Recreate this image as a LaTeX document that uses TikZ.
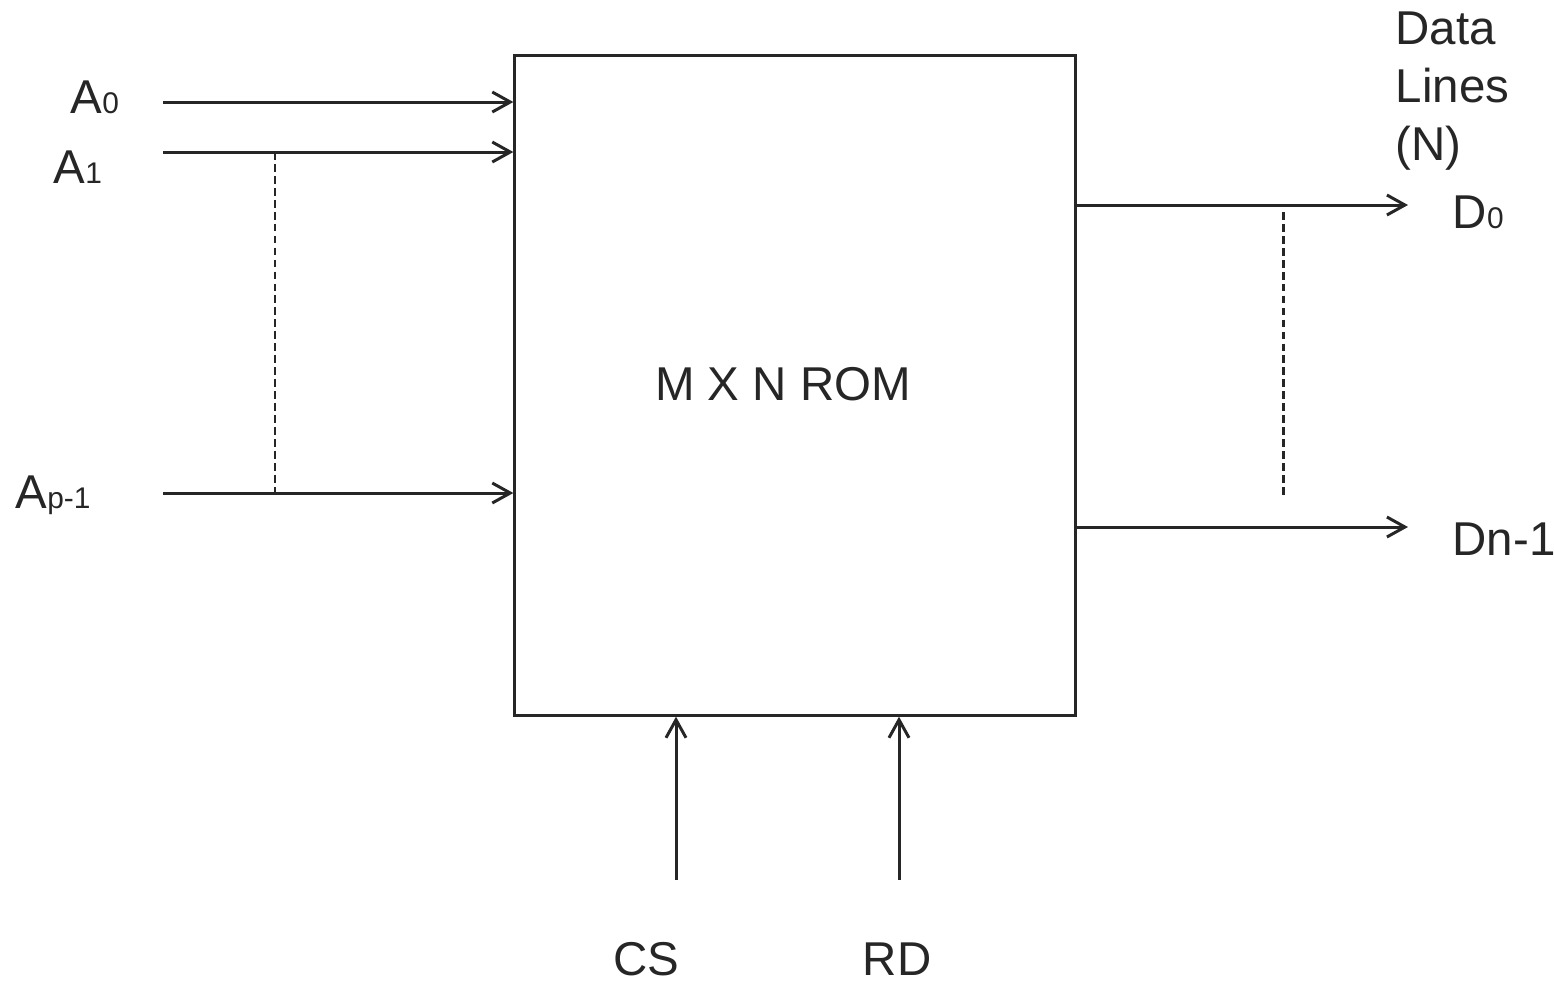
\documentclass[tikz,border=0pt]{standalone}
\usepackage{fontspec}
\setmainfont{Liberation Sans}
\usetikzlibrary{arrows.meta,positioning}
\definecolor{inkgray}{HTML}{262626}
\newcommand{\pinsub}[1]{{\fontsize{8.5}{10}\selectfont #1}}

\begin{document}
\begin{tikzpicture}[x=0.01cm,y=-0.01cm,
    every node/.style={text=inkgray,font=\fontsize{13.5}{16.5}\selectfont,inner sep=0pt},
    wire/.style={draw=inkgray,line width=0.85pt,-{Straight Barb[length=0.18cm,width=0.2cm,line width=0.85pt]}},
    guide/.style={draw=inkgray,line width=0.85pt,dash pattern=on 2.2pt off 1.2pt}]
    \useasboundingbox (0,0) rectangle (1554,987);

    % ROM block
    \node (rom) [draw=inkgray,line width=0.85pt,minimum width=5.6cm,minimum height=6.59cm] at (795,385.5) {};
    \node (romlbl) [anchor=base] at (783,400) {M X N ROM};

    % Address lines
    \coordinate (a0) at (163,102);
    \coordinate (a1) at (163,152);
    \coordinate (ap) at (163,493);
    \node (a0lbl) [anchor=base west] at (70,113) {A\pinsub{0}};
    \node (a1lbl) [anchor=base west] at (53,183) {A\pinsub{1}};
    \node (aplbl) [anchor=base west] at (15,508) {A\pinsub{p-1}};
    \draw[wire] (a0) -- (rom.west |- a0);
    \draw[wire] (a1) -- (rom.west |- a1);
    \draw[wire] (ap) -- (rom.west |- ap);
    \coordinate (atop) at (275,152);
    \coordinate (abot) at (275,493);
    \draw[guide] (atop) -- (abot);

    % Data lines
    \coordinate (d0) at (1408,205);
    \coordinate (dn) at (1408,527);
    \node (datalbl) [anchor=north west,align=left] at (1395,11) {Data\\Lines\\(N)};
    \node (d0lbl) [anchor=base west] at (1452,228) {D\pinsub{0}};
    \node (dnlbl) [anchor=base west] at (1452,555) {Dn-1};
    \draw[wire] (rom.east |- d0) -- (d0);
    \draw[wire] (rom.east |- dn) -- (dn);
    \coordinate (dtop) at (1283,212);
    \coordinate (dbot) at (1283,498);
    \draw[guide] (dtop) -- (dbot);

    % Control lines
    \coordinate (cs) at (676,880);
    \coordinate (rd) at (899,880);
    \node (cslbl) [anchor=base] at (646,975) {CS};
    \node (rdlbl) [anchor=base] at (897,975) {RD};
    \draw[wire] (cs) -- (rom.south -| cs);
    \draw[wire] (rd) -- (rom.south -| rd);
\end{tikzpicture}
\end{document}
